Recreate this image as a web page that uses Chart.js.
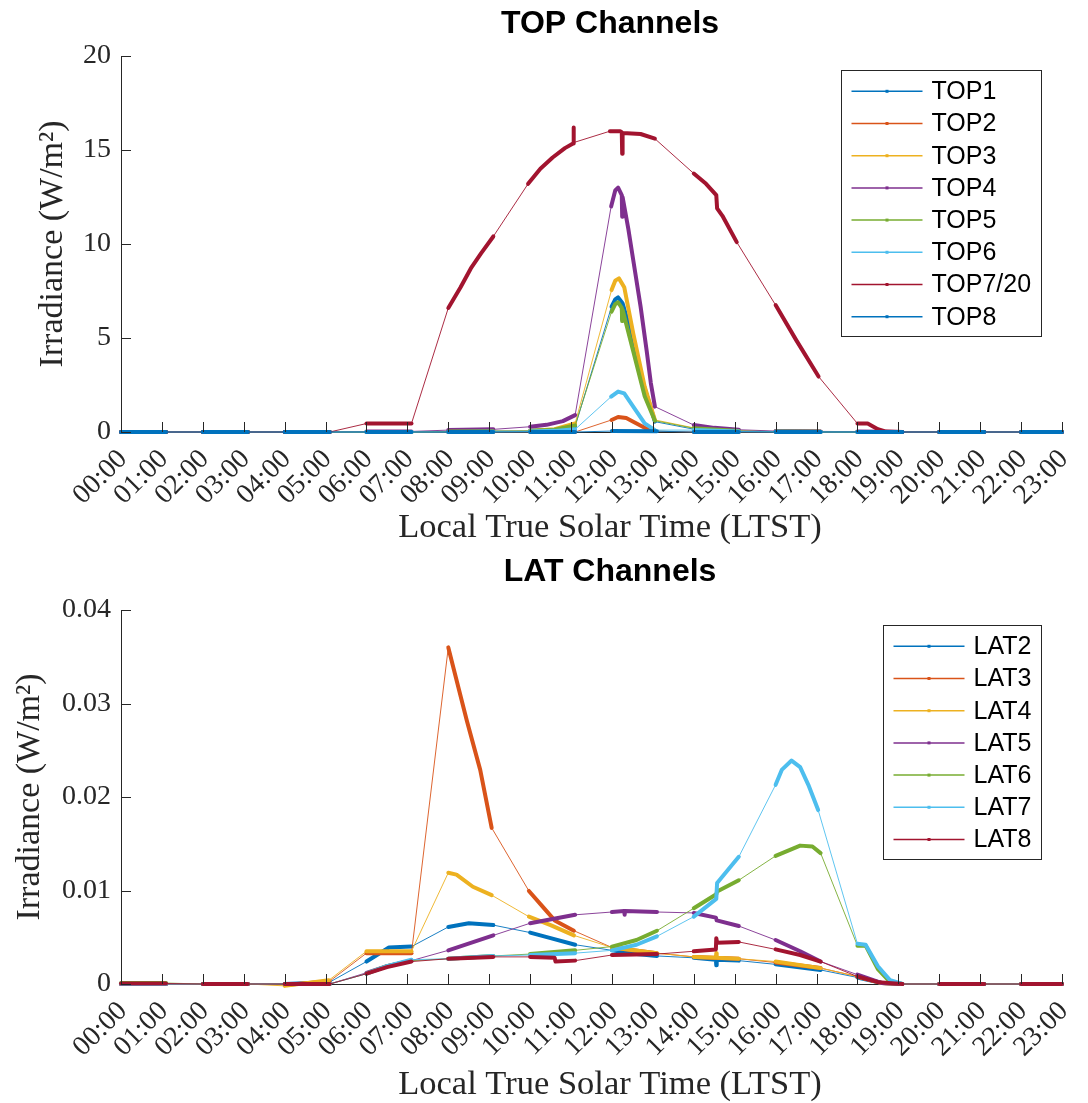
<!DOCTYPE html>
<html>
<head>
<meta charset="utf-8">
<script src="https://cdn.jsdelivr.net/npm/chart.js@4.4.0/dist/chart.umd.min.js"></script>
<style>
  html, body { margin: 0; padding: 0; background: #fff; }
  body { width: 1088px; height: 1103px; position: relative; overflow: hidden; }
  .panel { position: absolute; left: 0; width: 1088px; }
</style>
</head>
<body>
<div class="panel" style="top:0;height:551px"><canvas id="chartTop"></canvas></div>
<div class="panel" style="top:551px;height:552px"><canvas id="chartLat"></canvas></div>
<script>
// ---- data: [hour LTST, irradiance W/m2] ----
const topLabels = ['TOP1', 'TOP2', 'TOP3', 'TOP4', 'TOP5', 'TOP6', 'TOP7/20', 'TOP8'];
const latLabels = ['LAT2', 'LAT3', 'LAT4', 'LAT5', 'LAT6', 'LAT7', 'LAT8'];

const top1 = [[0,0],[1.1,0],[2,0],[3.1,0],[4,0],[5.1,0],[6,0],[7.1,0],[8,0.02],[9.1,0.05],[10,0.06],[10.6,0.12],[11.1,0.3],[11.99,6.67],[12.08,7.05],[12.15,7.16],[12.24,6.9],[12.25,6.0],[12.26,6.85],[12.4,5.8],[12.52,4.54],[12.7,3.0],[12.89,1.7],[13.05,0.55],[14,0.15],[14.5,0.08],[15.1,0.05],[16,0.02],[17.1,0.01],[18,0],[19.1,0],[20,0],[21.1,0],[22,0],[23,0]];
const top2 = [[0,0],[1.1,0],[2,0],[3.1,0],[4,0],[5.1,0],[6,0],[7.1,0],[8,0],[9.1,0],[10,0],[11.1,0],[11.99,0.64],[12.15,0.8],[12.35,0.74],[12.52,0.55],[12.8,0.22],[13.05,0.05],[14,0],[15.1,0],[16,0],[17.1,0],[18,0],[19.1,0],[20,0],[21.1,0],[22,0],[23,0]];
const top3 = [[0,0],[1.1,0],[2,0],[3.1,0],[4,0],[5.1,0],[6,0],[7.1,0],[8,0.02],[9.1,0.04],[10,0.05],[10.6,0.15],[11.1,0.46],[11.99,7.55],[12.08,8.05],[12.17,8.17],[12.3,7.7],[12.52,5.25],[12.8,2.41],[13.05,0.64],[14,0.22],[15.1,0.06],[16,0.02],[17.1,0.01],[18,0],[19.1,0],[20,0],[21.1,0],[22,0],[23,0]];
const top4 = [[0,0],[1.1,0],[2,0],[3.1,0],[4,0],[5.1,0],[6,0.02],[7.1,0.03],[8,0.1],[9.1,0.14],[10,0.28],[10.4,0.38],[10.8,0.58],[11.1,0.9],[11.98,12.0],[12.08,12.85],[12.15,13.0],[12.24,12.6],[12.25,11.45],[12.26,12.5],[12.4,10.8],[12.52,9.15],[12.7,6.67],[12.85,4.3],[12.95,2.6],[13.05,1.35],[14,0.37],[14.5,0.22],[15.1,0.12],[16,0.05],[17.1,0.03],[18,0.02],[19.1,0],[20,0],[21.1,0],[22,0],[23,0]];
const top5 = [[0,0],[1.1,0],[2,0],[3.1,0],[4,0],[5.1,0],[6,0],[7.1,0],[8,0.02],[9.1,0.04],[10,0.05],[10.6,0.12],[11.1,0.35],[11.99,6.4],[12.08,6.8],[12.15,6.9],[12.24,6.6],[12.25,5.9],[12.26,6.5],[12.52,4.3],[12.8,1.9],[13.05,0.6],[14,0.2],[15.1,0.05],[16,0.02],[17.1,0.01],[18,0],[19.1,0],[20,0],[21.1,0],[22,0],[23,0]];
const top6 = [[0,0],[1.1,0],[2,0],[3.1,0],[4,0],[5.1,0],[6,0],[7.1,0],[8,0],[9.1,0.01],[10,0.03],[10.6,0.06],[11.1,0.14],[11.98,1.88],[12.15,2.15],[12.3,2.05],[12.52,1.35],[12.8,0.46],[13.05,0.1],[14,0.1],[15.1,0.03],[16,0.01],[17.1,0],[18,0],[19.1,0],[20,0],[21.1,0],[22,0],[23,0]];
const top7 = [[0,0],[1.1,0],[2,0],[3.1,0],[4,0],[5.1,0],[6,0.45],[7.1,0.45],[8,6.6],[8.3,7.7],[8.55,8.7],[8.8,9.5],[9.1,10.4],[9.95,13.2],[10.25,14.0],[10.55,14.6],[10.85,15.1],[11.05,15.35],[11.06,16.2],[11.07,15.4],[11.95,16.0],[12.2,16.0],[12.24,15.95],[12.25,14.8],[12.26,15.9],[12.7,15.85],[13.05,15.6],[14,13.75],[14.3,13.2],[14.55,12.6],[14.57,11.9],[14.7,11.5],[15.05,10.1],[16,6.75],[16.5,4.9],[17.05,2.95],[18,0.45],[18.25,0.45],[18.5,0.15],[18.7,0.02],[19.1,0],[20,0],[21.1,0],[22,0],[23,0]];
const top8 = [[0,0],[1.1,0],[2,0],[3.1,0],[4,0],[5.1,0],[6,0],[7.1,0],[8,0],[9.1,0],[10,0],[11.1,0],[12,0.05],[13.1,0.04],[14,0],[15.1,0],[16,0],[17.1,0],[18,0],[19.1,0],[20,0],[21.1,0],[22,0],[23,0]];

const lat2 = [[0,0],[1.1,0],[2,0],[3.1,0],[4,0],[5.1,0.0002],[6,0.0024],[6.55,0.0039],[7.1,0.004],[8,0.0061],[8.5,0.0065],[9.1,0.0063],[10,0.0055],[10.5,0.0049],[11.1,0.0042],[12,0.0036],[12.6,0.0032],[13.1,0.003],[14,0.0028],[14.54,0.0026],[14.55,0.002],[14.56,0.0026],[15.1,0.0025],[16,0.0021],[17.1,0.0015],[18,0.0007],[18.6,0.0001],[19.1,0],[20,0],[21.1,0],[22,0],[23,0]];
const lat3 = [[0,0],[1.1,0],[2,0],[3.1,0],[4,-0.0001],[5.1,0.0003],[6,0.0033],[7.1,0.0033],[8,0.036],[8.12,0.0339],[8.45,0.0282],[8.78,0.0229],[9.06,0.0167],[9.97,0.00995],[10.3,0.0083],[10.6,0.0068],[11.07,0.0057],[12,0.0039],[13.1,0.0033],[14,0.0029],[15.1,0.0027],[16,0.0023],[17.1,0.0017],[18,0.0008],[18.6,0.0001],[19.1,0],[20,0],[21.1,0],[22,0],[23,0]];
const lat4 = [[0,0],[1.1,0],[2,0],[3.1,0],[4,-0.0002],[5.08,0.0004],[6,0.0035],[7.1,0.0035],[8,0.0119],[8.2,0.0117],[8.6,0.0104],[9.06,0.0095],[9.97,0.0072],[10.5,0.0063],[11.07,0.0052],[12,0.0039],[13.1,0.0033],[14,0.0029],[14.54,0.0028],[14.55,0.0033],[14.56,0.0028],[15.1,0.0027],[16,0.0024],[17.1,0.0017],[18,0.0008],[18.6,0.0001],[19.1,0],[20,0],[21.1,0],[22,0],[23,0]];
const lat5 = [[0,0],[1.1,0],[2,0],[3.1,0],[4,0],[5.1,0],[6,0.0012],[6.5,0.0019],[7.1,0.0025],[8,0.0036],[9.1,0.0052],[10,0.0065],[11.1,0.0074],[12,0.0077],[12.3,0.0078],[12.31,0.0074],[12.32,0.0078],[13.1,0.0077],[14,0.0076],[14.54,0.0071],[14.56,0.0068],[15.1,0.0062],[16,0.0047],[16.6,0.0035],[17.1,0.0024],[18,0.001],[18.6,0.0001],[19.1,0],[20,0],[21.1,0],[22,0],[23,0]];
const lat6 = [[0,0.0001],[1.1,0.0001],[2,0],[3.1,0],[4,0],[5.1,0],[6,0.0011],[6.5,0.0019],[7.1,0.0025],[8,0.0027],[9.1,0.003],[10,0.0032],[11.1,0.0036],[12,0.004],[12.6,0.0047],[13.1,0.0057],[14,0.0081],[14.55,0.0096],[14.57,0.0099],[15.1,0.0111],[16,0.0137],[16.6,0.0148],[16.9,0.0147],[17.1,0.014],[18,0.0041],[18.2,0.0041],[18.5,0.0016],[18.8,0.0002],[19.1,0],[20,0],[21.1,0],[22,0],[23,0]];
const lat7 = [[0,0],[1.1,0],[2,0],[3.1,0],[4,0],[5.1,0],[6,0.0011],[6.5,0.0019],[7.1,0.0026],[8,0.0027],[9.1,0.003],[10,0.0031],[11.1,0.0033],[12,0.0036],[12.6,0.0042],[13.1,0.0051],[14,0.0072],[14.55,0.0091],[14.57,0.0108],[15.1,0.0136],[16,0.0213],[16.15,0.0229],[16.39,0.0239],[16.6,0.0232],[16.8,0.0213],[17.04,0.0186],[18,0.0043],[18.2,0.0042],[18.5,0.0019],[18.8,0.0004],[19.1,0],[20,0],[21.1,0],[22,0],[23,0]];
const lat8 = [[0,0.00005],[1.1,0.00005],[2,0],[3.1,0],[4,0],[5.1,0],[6,0.0011],[6.5,0.0018],[7.1,0.0024],[8,0.0027],[9.1,0.0029],[10,0.0029],[10.6,0.0028],[10.62,0.0024],[11.1,0.0025],[12,0.0031],[13.1,0.0032],[14,0.0035],[14.54,0.0037],[14.55,0.0049],[14.57,0.0044],[15.1,0.0045],[16,0.0037],[16.6,0.0031],[17.1,0.0024],[18,0.0008],[18.5,0.0002],[19.1,0],[20,0],[21.1,0],[22,0],[23,0]];

// MATLAB default line colours
const lineColors = ['#0072BD', '#D95319', '#EDB120', '#7E2F8E', '#77AC30', '#4DBEEE', '#A2142F'];

const AXIS_COLOR = '#262626';
const SERIF = "'Liberation Serif', 'Times New Roman', serif";
const SANS = "'Liberation Sans', Arial, Helvetica, sans-serif";

// the instrument samples in ~1.1 h windows every 2 h: dense data -> thick band
function sameWindow(x0, x1) {
  return Math.floor((x0 + 0.05) / 2) === Math.floor((x1 + 0.05) / 2);
}

function makeDatasets(series, labels) {
  return series.map(function(pts, i) {
    const color = lineColors[i % lineColors.length];
    return {
      label: labels[i],
      data: pts.map(function(p) { return { x: p[0], y: p[1] }; }),
      borderColor: color,
      backgroundColor: color,
      borderWidth: 1,
      pointRadius: 0,
      tension: 0,
      clip: false,
      borderCapStyle: 'round',
      borderJoinStyle: 'round',
      order: series.length - i,
      segment: {
        borderWidth: function(ctx) {
          return sameWindow(ctx.p0.parsed.x, ctx.p1.parsed.x) ? 4 : 0.9;
        }
      }
    };
  });
}

// inward ticks (MATLAB style)
const inwardTicks = {
  id: 'inwardTicks',
  afterDraw(chart) {
    const { ctx, chartArea } = chart;
    const x = chart.scales.x, y = chart.scales.y;
    ctx.save();
    ctx.strokeStyle = AXIS_COLOR;
    ctx.lineWidth = 1;
    ctx.beginPath();
    x.ticks.forEach(function(_, i) {
      const px = Math.round(x.getPixelForTick(i)) + 0.5;
      ctx.moveTo(px, chartArea.bottom);
      ctx.lineTo(px, chartArea.bottom - 10);
    });
    y.ticks.forEach(function(_, i) {
      const py = Math.round(y.getPixelForTick(i)) + 0.5;
      ctx.moveTo(chartArea.left, py);
      ctx.lineTo(chartArea.left + 10, py);
    });
    ctx.stroke();
    ctx.restore();
  }
};

// boxed legend in the upper right corner
const boxLegend = {
  id: 'boxLegend',
  afterDraw(chart, args, opts) {
    const { ctx, chartArea } = chart;
    const sets = chart.data.datasets;
    ctx.save();
    ctx.font = '25px ' + SANS;
    const textW = Math.max.apply(null, sets.map(function(d) { return ctx.measureText(d.label).width; }));
    const w = 10 + 71 + 9 + textW + 10;
    const h = 40.6 + (sets.length - 1) * 32.2;
    const bx = Math.round(chartArea.right - opts.right - w) + 0.5;
    const by = Math.round(chartArea.top + opts.top) + 0.5;
    ctx.fillStyle = '#fff';
    ctx.fillRect(bx, by, w, h);
    ctx.strokeStyle = AXIS_COLOR;
    ctx.lineWidth = 1;
    ctx.strokeRect(bx, by, Math.round(w), Math.round(h));
    sets.forEach(function(d, i) {
      const ly = by + 20.8 + i * 32.2;
      ctx.strokeStyle = d.borderColor;
      ctx.lineWidth = 1.5;
      ctx.beginPath();
      ctx.moveTo(bx + 10, ly);
      ctx.lineTo(bx + 81, ly);
      ctx.stroke();
      ctx.fillStyle = d.borderColor;
      ctx.fillRect(bx + 44, ly - 1.5, 3, 3);
      ctx.fillStyle = '#000';
      ctx.textBaseline = 'middle';
      ctx.textAlign = 'left';
      ctx.fillText(d.label, bx + 90, ly + 1);
    });
    ctx.restore();
  }
};

// bold panel title above the axes and the x-axis label below
const panelTitle = {
  id: 'panelTitle',
  afterDraw(chart, args, opts) {
    const { ctx, chartArea } = chart;
    const cx = (chartArea.left + chartArea.right) / 2 + opts.dx;
    ctx.save();
    ctx.fillStyle = '#000';
    ctx.textAlign = 'center';
    ctx.textBaseline = 'middle';
    ctx.font = 'bold 32px ' + SANS;
    ctx.fillText(opts.text, cx, opts.y);
    ctx.fillStyle = AXIS_COLOR;
    ctx.font = '34.5px ' + SERIF;
    ctx.fillText(opts.xText, cx, opts.xTextY);
    ctx.restore();
  }
};

function pad2(v) { return (v < 10 ? '0' : '') + v + ':00  '; }

function buildChart(canvasId, datasets, cfg) {
  return new Chart(document.getElementById(canvasId), {
    type: 'line',
    data: { datasets: datasets },
    plugins: [inwardTicks, boxLegend, panelTitle],
    options: {
      responsive: true,
      maintainAspectRatio: false,
      animation: false,
      events: [],
      layout: { padding: { top: cfg.top, right: 26, bottom: 0, left: 0 } },
      plugins: {
        legend: { display: false },
        tooltip: { enabled: false },
        title: { display: false },
        boxLegend: { right: 21, top: cfg.legendTop },
        panelTitle: { text: cfg.title, y: cfg.titleY, dx: 18.5,
                      xText: 'Local True Solar Time (LTST)', xTextY: cfg.xTitleY }
      },
      scales: {
        x: {
          type: 'linear',
          min: 0,
          max: 23,
          afterFit: function(s) {
            s.height = cfg.xHeight;
            s.paddingLeft = 0;
            s.paddingRight = 0;
          },
          ticks: {
            stepSize: 1,
            autoSkip: false,
            includeBounds: false,
            minRotation: 45,
            maxRotation: 45,
            padding: 1,
            showLabelBackdrop: true,
            backdropColor: 'rgba(0,0,0,0)',
            backdropPadding: 0,
            color: AXIS_COLOR,
            font: { family: SERIF, size: 28 },
            callback: function(v) { return pad2(v); }
          },
          grid: { drawOnChartArea: false, drawTicks: false },
          border: { color: AXIS_COLOR, width: 1 }
        },
        y: {
          min: 0,
          max: cfg.yMax,
          afterFit: function(s) { s.width = 121; },
          ticks: {
            stepSize: cfg.yStep,
            padding: 10,
            color: AXIS_COLOR,
            font: { family: SERIF, size: 28 },
            callback: cfg.yFormat
          },
          grid: { drawOnChartArea: false, drawTicks: false },
          border: { color: AXIS_COLOR, width: 1 },
          title: {
            display: true,
            text: 'Irradiance (W/m\u00B2)',
            color: AXIS_COLOR,
            font: { family: SERIF, size: 34, lineHeight: 1 },
            padding: { top: cfg.yTitlePad, bottom: 0 }
          }
        }
      }
    }
  });
}

buildChart('chartTop',
  makeDatasets([top1, top2, top3, top4, top5, top6, top7, top8], topLabels),
  { top: 56, xHeight: 119, xTitleY: 528, yTitlePad: 36, yMax: 20, yStep: 5, legendTop: 14,
    title: 'TOP Channels', titleY: 24,
    yFormat: function(v) { return String(v); } });

buildChart('chartLat',
  makeDatasets([lat2, lat3, lat4, lat5, lat6, lat7, lat8], latLabels),
  { top: 59, xHeight: 119, xTitleY: 534, yTitlePad: 13, yMax: 0.04, yStep: 0.01, legendTop: 15,
    title: 'LAT Channels', titleY: 21,
    yFormat: function(v) { return v === 0 ? '0' : v.toFixed(2); } });
</script>
</body>
</html>
